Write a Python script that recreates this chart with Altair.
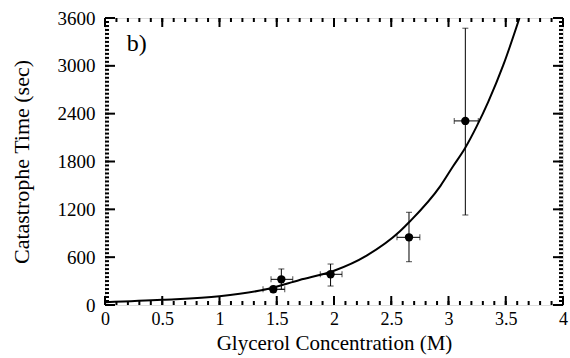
import altair as alt
import pandas as pd

# ---- data ----
conc = [1.47, 1.54, 1.97, 2.655, 3.147]
time = [197, 322, 385, 849, 2309]
conc_lo = [1.38, 1.45, 1.88, 2.55, 3.05]
conc_hi = [1.57, 1.64, 2.07, 2.75, 3.26]
time_lo = [160, 197, 238, 543, 1129]
time_hi = [235, 452, 514, 1163, 3472]

fit_x = [0, 0.5, 1.0, 1.4, 1.7, 2.0, 2.285, 2.576, 2.664, 2.93, 3.04, 3.144, 3.246, 3.348, 3.479, 3.62]
fit_y = [35, 65, 110, 195, 314, 430, 620, 925, 1050, 1495, 1740, 1966, 2240, 2551, 3011, 3600]

x_major = [0, 0.5, 1, 1.5, 2, 2.5, 3, 3.5, 4]
x_minor = [round(i * 0.1, 1) for i in range(41)]
y_major = [0, 600, 1200, 1800, 2400, 3000, 3600]
y_minor = [i * 50 for i in range(73)]

panel_label = ["b)"]
panel_x = [0.19]
panel_y = [3275]

W, H = 458, 287
FONT = "Liberation Serif"

pts = pd.DataFrame(dict(x=conc, y=time, xlo=conc_lo, xhi=conc_hi, ylo=time_lo, yhi=time_hi))
fit = pd.DataFrame(dict(x=fit_x, y=fit_y))

xs = alt.Scale(domain=[0, 4], nice=False, zero=False)
ys = alt.Scale(domain=[0, 3600], nice=False, zero=False)

X = alt.X("x:Q", scale=xs, title="Glycerol Concentration (M)",
          axis=alt.Axis(values=x_major, format="~g", ticks=False, tickSize=0, domain=False, grid=False,
                        labelPadding=5, titlePadding=4, labelFontSize=18, titleFontSize=21,
                        labelFont=FONT, titleFont=FONT, labelColor="black", titleColor="black",
                        titleFontWeight="normal", labelFlush=False))
Y = alt.Y("y:Q", scale=ys, title="Catastrophe Time (sec)",
          axis=alt.Axis(values=y_major, format="d", ticks=False, tickSize=0, domain=False, grid=False,
                        labelPadding=10, titlePadding=24, labelFontSize=19, titleFontSize=22,
                        labelFont=FONT, titleFont=FONT, labelColor="black", titleColor="black",
                        titleFontWeight="normal", labelFlush=False))

fit_line = alt.Chart(fit).mark_line(color="black", strokeWidth=2, interpolate="monotone", clip=True).encode(
    x=X, y=Y)

xerr = alt.Chart(pts).mark_rule(color="black", strokeWidth=1).encode(
    x=alt.X("xlo:Q", scale=xs), x2="xhi:Q", y=alt.Y("y:Q", scale=ys))
yerr = alt.Chart(pts).mark_rule(color="black", strokeWidth=1).encode(
    x=alt.X("x:Q", scale=xs), y=alt.Y("ylo:Q", scale=ys), y2="yhi:Q")

cap_xlo = alt.Chart(pts).mark_tick(color="black", orient="vertical", size=6, thickness=1).encode(
    x=alt.X("xlo:Q", scale=xs), y=alt.Y("y:Q", scale=ys))
cap_xhi = alt.Chart(pts).mark_tick(color="black", orient="vertical", size=6, thickness=1).encode(
    x=alt.X("xhi:Q", scale=xs), y=alt.Y("y:Q", scale=ys))
cap_ylo = alt.Chart(pts).mark_tick(color="black", orient="horizontal", size=6, thickness=1).encode(
    x=alt.X("x:Q", scale=xs), y=alt.Y("ylo:Q", scale=ys))
cap_yhi = alt.Chart(pts).mark_tick(color="black", orient="horizontal", size=6, thickness=1).encode(
    x=alt.X("x:Q", scale=xs), y=alt.Y("yhi:Q", scale=ys))

dots = alt.Chart(pts).mark_circle(color="black", opacity=1, size=70).encode(
    x=alt.X("x:Q", scale=xs), y=alt.Y("y:Q", scale=ys))

label = alt.Chart(pd.DataFrame(dict(x=panel_x, y=panel_y, t=panel_label))).mark_text(
    font=FONT, fontSize=24, align="left", baseline="middle", color="black").encode(
    x=alt.X("x:Q", scale=xs), y=alt.Y("y:Q", scale=ys), text="t:N")

# inward tick marks on all four sides
xmaj = pd.DataFrame(dict(t=x_major))
xmin = pd.DataFrame(dict(t=x_minor))
ymaj = pd.DataFrame(dict(t=y_major))
ymin = pd.DataFrame(dict(t=y_minor))

def xticks(df, length):
    b = alt.Chart(df).mark_rule(color="black", strokeWidth=2).encode(
        x=alt.X("t:Q", scale=xs), y=alt.value(H), y2=alt.value(H - length))
    t = alt.Chart(df).mark_rule(color="black", strokeWidth=2).encode(
        x=alt.X("t:Q", scale=xs), y=alt.value(0), y2=alt.value(length))
    return [b, t]

def yticks(df, length):
    l = alt.Chart(df).mark_rule(color="black", strokeWidth=2).encode(
        y=alt.Y("t:Q", scale=ys), x=alt.value(0), x2=alt.value(length))
    r = alt.Chart(df).mark_rule(color="black", strokeWidth=2).encode(
        y=alt.Y("t:Q", scale=ys), x=alt.value(W), x2=alt.value(W - length))
    return [l, r]

ticks = xticks(xmin, 4) + xticks(xmaj, 9) + yticks(ymin, 4) + yticks(ymaj, 10)

chart = alt.layer(fit_line, xerr, yerr, cap_xlo, cap_xhi, cap_ylo, cap_yhi, dots, label, *ticks).properties(
    width=W, height=H,
    autosize=alt.AutoSizeParams(type="none"),
    padding={"left": 105, "top": 18, "right": 7, "bottom": 53},
).configure_view(stroke="black", strokeWidth=3).configure(background="white")

chart.save("out.html", embed_options={"renderer": "svg", "actions": False})
